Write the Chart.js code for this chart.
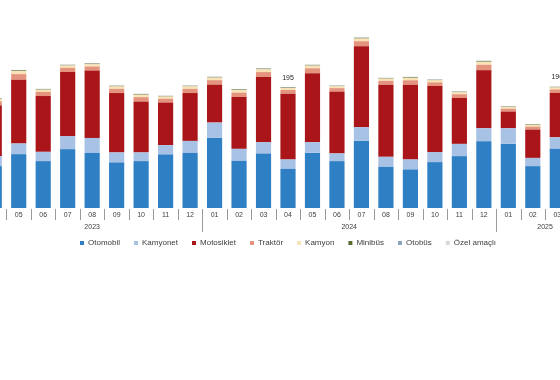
<!DOCTYPE html>
<html><head><meta charset="utf-8">
<script src="https://cdn.jsdelivr.net/npm/chart.js@4.4.1/dist/chart.umd.min.js"></script>
<style>
html,body{margin:0;padding:0;background:#fff;overflow:hidden;}
#wrap{position:relative;width:560px;height:380px;overflow:hidden;background:#fff;}
#c{position:absolute;left:-18px;top:0;}
</style></head><body>
<div id="wrap"><canvas id="c" width="612" height="380" style="width:612px;height:380px"></canvas></div>
<script>
// Categories (month, year)
const months = ['04','05','06','07','08','09','10','11','12',
                '01','02','03','04','05','06','07','08','09','10','11','12',
                '01','02','03','04'];
const years  = ['2023','2023','2023','2023','2023','2023','2023','2023','2023',
                '2024','2024','2024','2024','2024','2024','2024','2024','2024','2024','2024','2024',
                '2025','2025','2025','2025'];
// Series values (thousand vehicles)
const otomobil   = [67.5, 86.8, 75.6, 94.9, 88.9, 73.5, 75.6, 86.4, 88.9, 113.0, 76.1, 88.0, 63.2, 88.9, 75.6, 108.2, 66.4, 62.2, 74.0, 83.6, 107.7, 103.4, 67.5, 95.5, null];
const kamyonet   = [16.0, 17.2, 15.0, 20.9, 24.1, 16.1, 14.0, 15.0, 19.3, 24.8, 19.3, 18.2, 15.1, 17.2, 12.4, 22.0, 16.1, 16.1, 16.1, 19.8, 20.9, 25.2, 13.3, 18.5, null];
const motosiklet = [82.0, 102.9, 90.0, 103.4, 108.9, 95.8, 82.0, 68.7, 77.2, 61.1, 83.6, 105.0, 106.1, 111.4, 99.7, 130.7, 116.4, 120.6, 106.6, 74.0, 93.7, 26.9, 45.7, 71.5, null];
const traktor    = [6.4, 9.0, 6.6, 6.9, 6.3, 6.8, 7.2, 6.2, 6.8, 7.3, 7.1, 8.0, 5.9, 7.8, 5.6, 8.1, 6.2, 7.1, 5.9, 6.0, 8.7, 4.6, 4.7, 5.7, null];
const kamyon     = [3.7, 5.1, 3.6, 3.8, 3.7, 3.9, 3.9, 3.5, 4.0, 4.2, 4.1, 4.5, 3.2, 4.4, 3.1, 4.4, 3.6, 4.0, 3.4, 3.3, 4.9, 2.7, 2.9, 3.3, null];
const minibus    = [0.8, 0.9, 0.8, 0.8, 1.0, 0.9, 0.9, 0.8, 0.8, 0.9, 0.9, 1.0, 0.8, 0.9, 0.7, 1.1, 0.8, 1.0, 0.8, 0.8, 1.1, 0.7, 0.8, 0.8, null];
const otobus     = [0.3, 0.4, 0.3, 0.3, 0.3, 0.3, 0.4, 0.3, 0.3, 0.3, 0.3, 0.4, 0.3, 0.3, 0.3, 0.3, 0.3, 0.3, 0.3, 0.3, 0.3, 0.2, 0.2, 0.3, null];
const ozelAmacli = [0.5, 0.6, 0.6, 0.6, 0.4, 0.5, 0.5, 0.5, 0.5, 0.6, 0.5, 0.6, 0.4, 0.6, 0.4, 0.6, 0.4, 0.5, 0.4, 0.4, 0.6, 0.3, 0.4, 0.4, null];
// Bars that carry a total label
const labeledIndices = [12, 23];
const seriesNames = ['Otomobil','Kamyonet','Motosiklet','Traktör','Kamyon','Minibüs','Otobüs','Özel amaçlı'];
const seriesColors = ['#2E7FC4','#A8C2E6','#A91519','#E4937C','#F8E2B6','#566A2C','#8FA3BC','#D9D9D9'];
const seriesData = [otomobil, kamyonet, motosiklet, traktor, kamyon, minibus, otobus, ozelAmacli];

const FONT = '"Liberation Sans", Arial, sans-serif';

const axisText = {
  id: 'axisText',
  afterDraw(chart) {
    const ctx = chart.ctx, xs = chart.scales.x, ys = chart.scales.y;
    const bottom = chart.chartArea.bottom;
    const n = months.length;
    ctx.save();
    ctx.fillStyle = '#404040';
    ctx.textAlign = 'center';
    ctx.textBaseline = 'middle';
    ctx.font = '7px ' + FONT;
    for (let i = 0; i < n; i++) ctx.fillText(months[i], xs.getPixelForValue(i), bottom + 7);
    ctx.strokeStyle = '#9A9A9A';
    ctx.lineWidth = 1;
    for (let i = 0; i < n - 1; i++) {
      const x = Math.round((xs.getPixelForValue(i) + xs.getPixelForValue(i + 1)) / 2) + 0.5;
      const yearEnd = years[i] !== years[i + 1];
      ctx.beginPath();
      ctx.moveTo(x, bottom + 1);
      ctx.lineTo(x, bottom + (yearEnd ? 24 : 12));
      ctx.stroke();
    }
    let start = 0;
    for (let i = 1; i <= n; i++) {
      if (i === n || years[i] !== years[start]) {
        const cx = (xs.getPixelForValue(start) + xs.getPixelForValue(i - 1)) / 2;
        ctx.fillText(years[start], cx, bottom + 19);
        start = i;
      }
    }
    ctx.fillStyle = '#262626';
    for (const i of labeledIndices) {
      let tot = 0;
      for (const s of seriesData) tot += (s[i] || 0);
      ctx.fillText(String(Math.round(tot)), xs.getPixelForValue(i), ys.getPixelForValue(tot) - 9);
    }
    ctx.restore();
  }
};

new Chart(document.getElementById('c'), {
  type: 'bar',
  data: {
    labels: months,
    datasets: seriesNames.map((name, k) => ({
      label: name,
      data: seriesData[k],
      backgroundColor: seriesColors[k],
      borderWidth: 0,
      categoryPercentage: 1,
      barPercentage: 0.62
    }))
  },
  options: {
    responsive: false,
    animation: false,
    devicePixelRatio: 1,
    layout: { padding: { top: 22, bottom: 123, left: 0, right: 0 } },
    scales: {
      x: { stacked: true, display: false },
      y: { stacked: true, display: false, min: 0, max: 300 }
    },
    plugins: {
      tooltip: { enabled: false },
      legend: {
        position: 'bottom',
        title: { display: true, text: '', font: { size: 1, lineHeight: 1 }, padding: { top: 0, bottom: 16 } },
        labels: {
          boxWidth: 4, boxHeight: 4, padding: 14,
          color: '#404040',
          font: { size: 8, family: FONT }
        }
      }
    }
  },
  plugins: [axisText]
});
</script>
</body></html>
